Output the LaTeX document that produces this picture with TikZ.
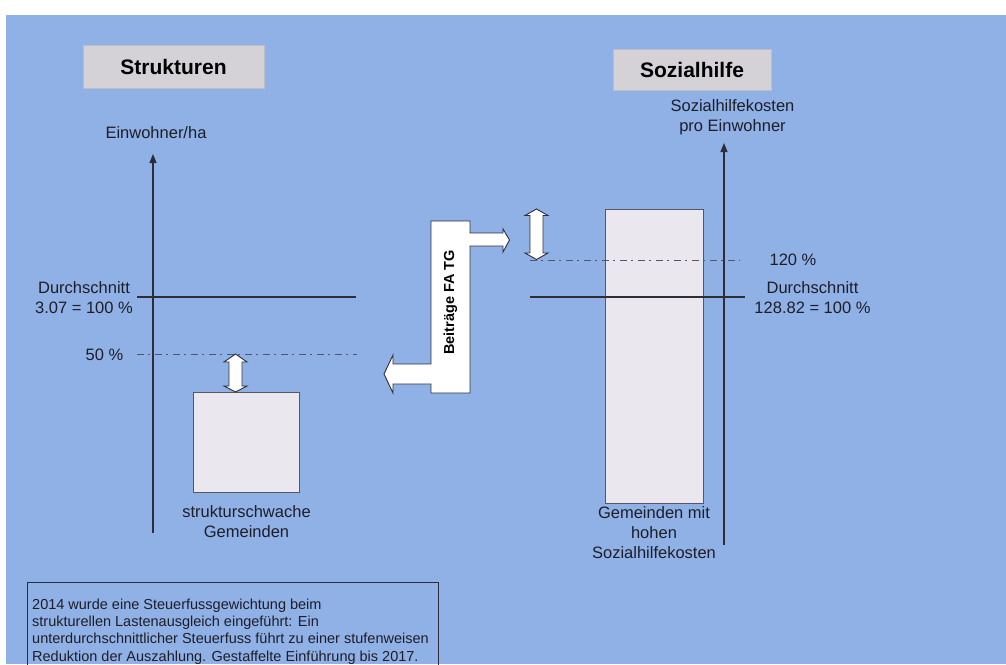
\documentclass[tikz,border=0pt]{standalone}
\usepackage{fontspec}
\setmainfont{Liberation Sans}
\usetikzlibrary{arrows.meta}
\definecolor{bg}{RGB}{143,177,230}
\definecolor{titlefill}{RGB}{212,210,215}
\definecolor{boxfill}{RGB}{235,231,238}
\definecolor{ink}{RGB}{30,30,40}
\definecolor{linecol}{RGB}{45,45,58}
\definecolor{dashcol}{RGB}{80,88,104}
\tikzset{
  lbl/.style={font=\fontsize{16.5}{20}\selectfont, text=ink, align=center, inner sep=0pt},
  titlebox/.style={fill=titlefill, draw=titlefill!90!black, line width=0.5pt, font=\fontsize{21}{25}\selectfont\bfseries, text=black, inner sep=0pt},
  axis/.style={draw=linecol, line width=1.1pt, -{Triangle[length=9pt,width=7pt]}},
  avgline/.style={draw=linecol, line width=1.1pt},
  dashline/.style={draw=dashcol, line width=1.3pt, dash pattern=on 7pt off 4pt on 2pt off 5pt},
  barbox/.style={fill=boxfill, draw=linecol!80, line width=1pt},
  dblarrow/.style={fill=white, draw=linecol, line width=0.9pt, line join=miter},
  notebox/.style={draw=linecol, line width=0.9pt}
}
\begin{document}
\begin{tikzpicture}[x=1pt,y=-1pt]
\useasboundingbox (0,0) rectangle (1006,664);
\fill[white] (0,0) rectangle (1006,664);
\fill[bg] (6,15) rectangle (1006,664);

% titles
\node[titlebox, minimum width=181pt, minimum height=43pt] (tS) at (173.5,66.5) {Strukturen};
\node[titlebox, minimum width=158pt, minimum height=41pt] (tH) at (692,69.5) {Sozialhilfe};

% left axis
\coordinate (la0) at (153,533);
\coordinate (la1) at (153,154);
\draw[axis] (la0) -- (la1);
\node[lbl] (lEin) at (156,133) {Einwohner/ha};

% right axis
\coordinate (ra0) at (724,545);
\coordinate (ra1) at (724,143);
\draw[axis] (ra0) -- (ra1);
\node[lbl] (rSoz) at (732.5,117.5) {Sozialhilfekosten\\pro Einwohner};

% left box
\node[barbox, minimum width=106pt, minimum height=100pt, inner sep=0pt] (lbox) at (246.5,442) {};
\node[lbl] (lboxlbl) at (246.5,522) {strukturschwache\\Gemeinden};

% right box
\node[barbox, minimum width=98pt, minimum height=294pt, inner sep=0pt] (rbox) at (654,356) {};
\node[lbl] (rboxlbl) at (654,533) {Gemeinden mit\\hohen\\Sozialhilfekosten};

% left lines
\coordinate (ls0) at (137,297);
\coordinate (ls1) at (356,297);
\draw[avgline] (ls0) -- (ls1);
\coordinate (ld0) at (137,354.5);
\coordinate (ld1) at (357,354.5);
\draw[dashline] (ld0) -- (ld1);
\node[lbl] (lDurch) at (84,297.5) {Durchschnitt\\3.07 = 100 \%};
\node[lbl] (l50) at (104.5,355) {50 \%};

% right lines
\coordinate (rs0) at (530,297);
\coordinate (rs1) at (745,297);
\draw[avgline] (rs0) -- (rs1);
\coordinate (rd0) at (530,260.5);
\coordinate (rd1) at (740,260.5);
\draw[dashline] (rd0) -- (rd1);
\node[lbl] (r120) at (793,260) {120 \%};
\node[lbl] (rDurch) at (812.5,298) {Durchschnitt\\128.82 = 100 \%};

% double arrows
\draw[dblarrow] (235.5,354) -- (247,362) -- (242,362) -- (242,386) -- (247,386) -- (235.5,392)
  -- (224,386) -- (229,386) -- (229,362) -- (224,362) -- cycle;
\draw[dblarrow] (536.5,209) -- (548,215.5) -- (543,215.5) -- (543,253) -- (548,253) -- (536.5,259.5)
  -- (525,253) -- (530,253) -- (530,215.5) -- (525,215.5) -- cycle;

% Beitraege shape
\draw[dblarrow] (431,221) -- (470,221) -- (470,233) -- (503,233) -- (503,229) -- (509.5,240)
  -- (503,252) -- (503,246) -- (470,246) -- (470,393) -- (431,393) -- (431,384)
  -- (393,384) -- (393,393) -- (384,374) -- (393,355) -- (393,364) -- (431,364) -- cycle;
\node[font=\fontsize{14.5}{17}\selectfont\bfseries, text=black, rotate=90, inner sep=0pt] (beitr) at (450.5,302.5) {Beiträge FA TG};

% note box
\draw[notebox] (27,670) -- (27,582) -- (438,582) -- (438,670);
\node[font=\fontsize{14.5}{17.3}\selectfont, text=ink, align=left, anchor=north west, inner sep=0pt] (note) at (32,598.5)
  {2014 wurde eine Steuerfussgewichtung beim\\strukturellen Lastenausgleich eingeführt: Ein\\unterdurchschnittlicher Steuerfuss führt zu einer stufenweisen\\Reduktion der Auszahlung. Gestaffelte Einführung bis 2017.};
\end{tikzpicture}
\end{document}
